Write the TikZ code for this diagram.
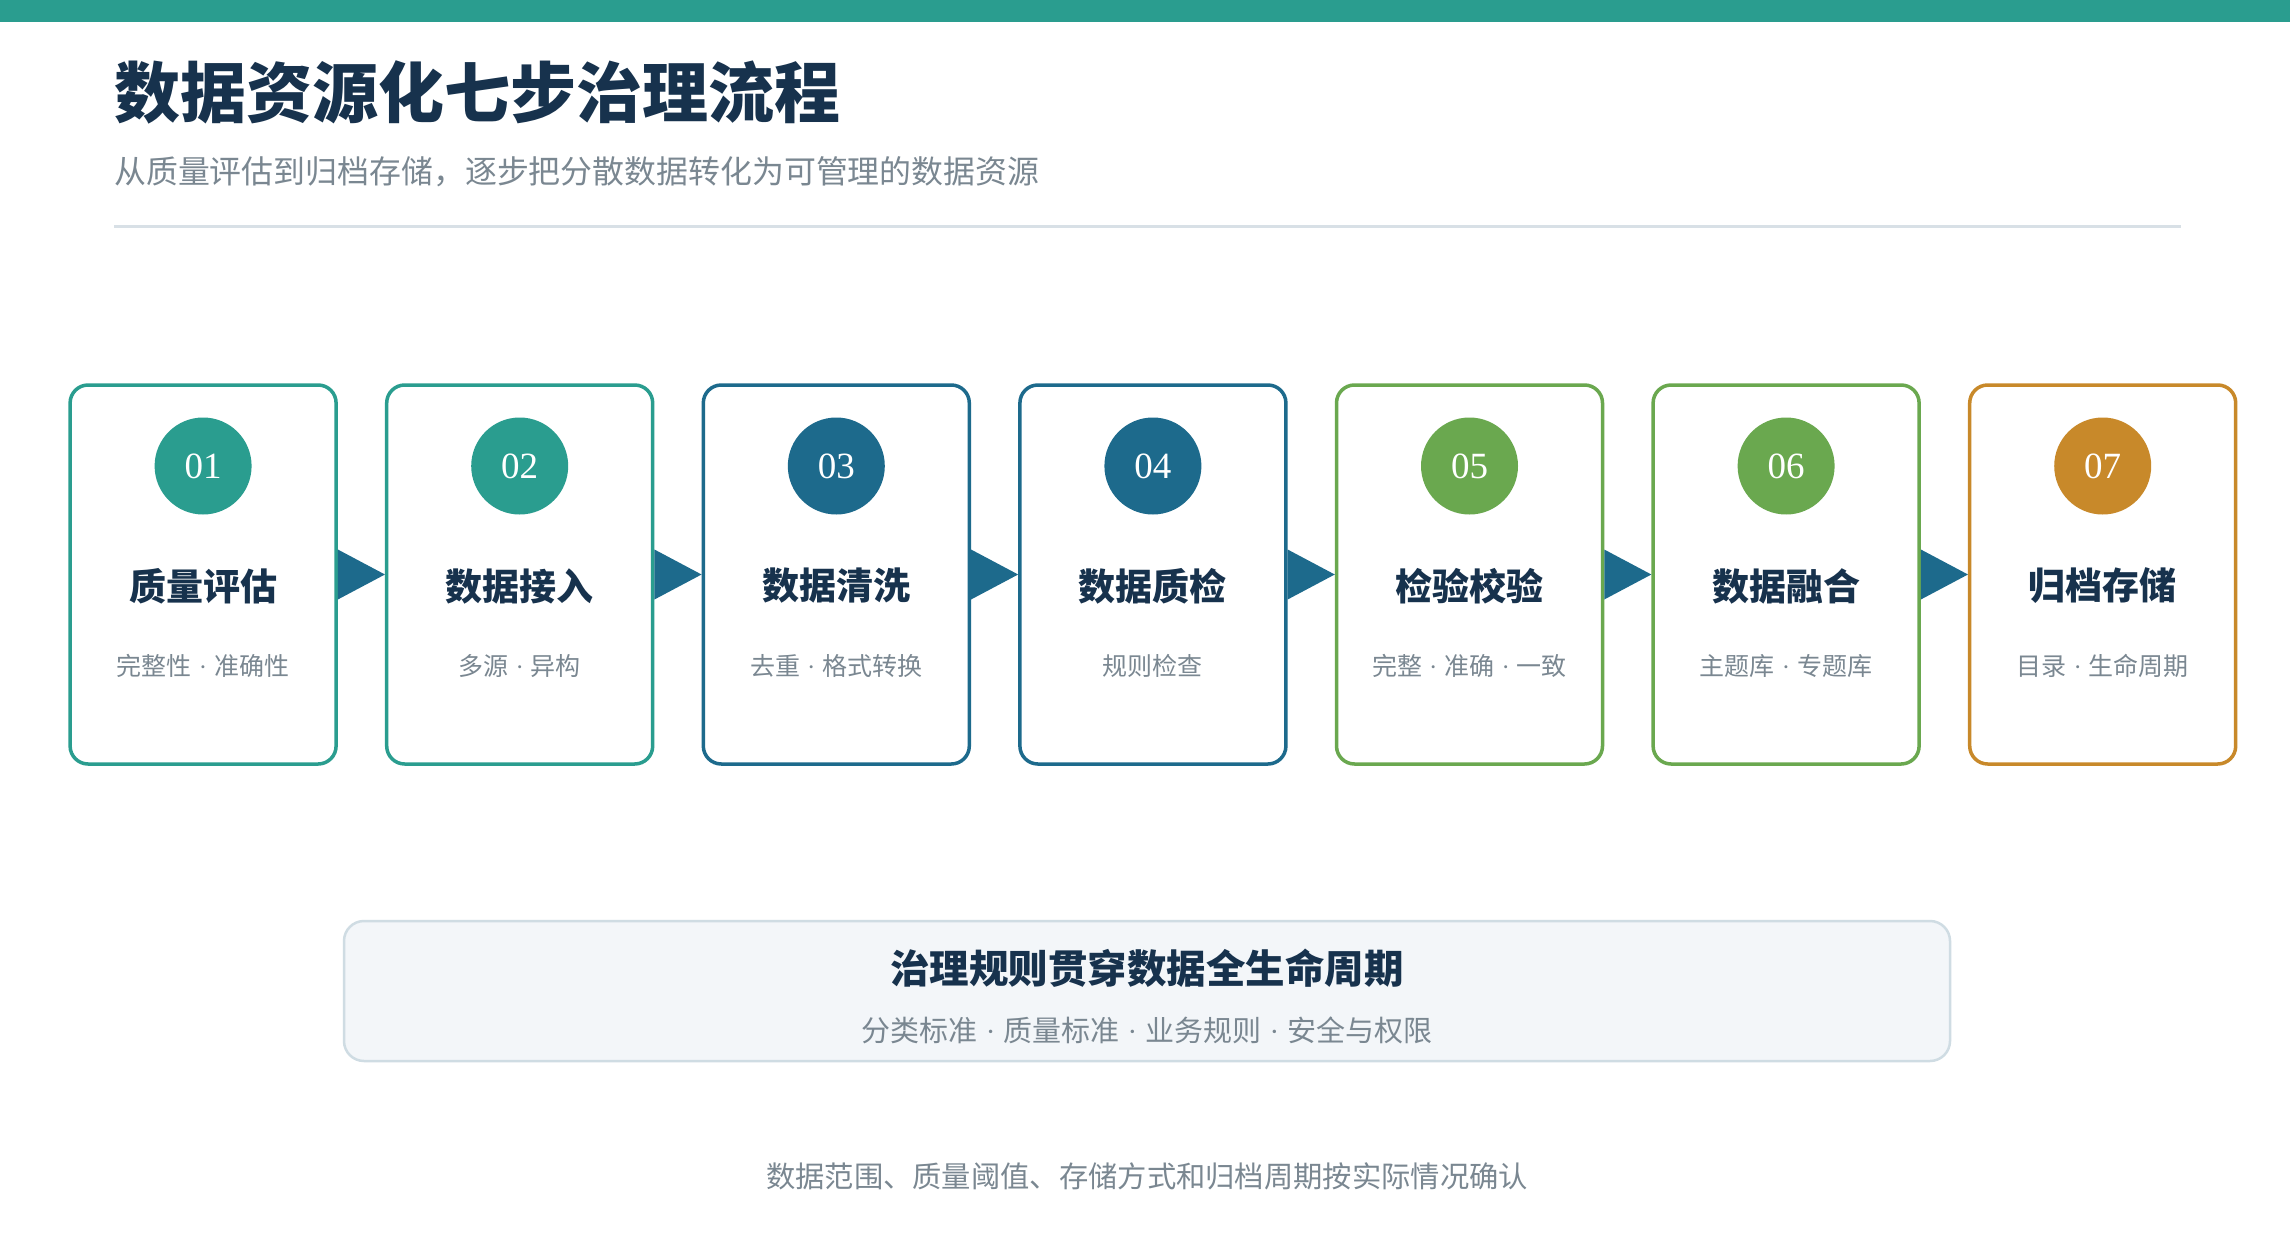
\documentclass[tikz,border=0pt]{standalone}
\usepackage{fontspec}
\setmainfont{Liberation Serif}
\newfontfamily\cjk{Noto Sans CJK SC}
\newfontfamily\numfont{Liberation Serif}
\newcommand{\middot}{\hspace{0.28em}{\numfont ·}\hspace{0.28em}}
\definecolor{cteal}{HTML}{2A9D8F}
\definecolor{cblue}{HTML}{1D6A8C}
\definecolor{cgreen}{HTML}{6AA84F}
\definecolor{corange}{HTML}{C8892A}
\definecolor{navy}{HTML}{17324D}
\definecolor{greytext}{HTML}{7A8791}
\definecolor{rulec}{HTML}{D8E0E6}
\definecolor{panelbg}{HTML}{F3F6F9}
\definecolor{panelbd}{HTML}{CFDCE3}
\begin{document}
\begin{tikzpicture}[x=1pt,y=-1pt,
  stepbox/.style={draw, line width=3.5pt, rounded corners=18pt, fill=white,
    minimum width=266pt, minimum height=379pt, inner sep=0pt},
  numdot/.style={circle, minimum size=97pt, inner sep=0pt, text=white,
    font=\numfont\fontsize{37}{40}\selectfont},
  steptitle/.style={inner sep=0pt, text=navy, font=\cjk\bfseries\fontsize{37}{40}\selectfont},
  stepsub/.style={inner sep=0pt, text=greytext, font=\cjk\fontsize{25}{28}\selectfont},
  flowarrow/.style={fill=cblue, draw=none}]
\useasboundingbox (0,0) rectangle (2290,1244);
\fill[white] (0,0) rectangle (2290,1244);
\fill[cteal] (0,0) rectangle (2290,22);
\node[anchor=west, inner sep=0pt, text=navy, font=\cjk\bfseries\fontsize{66}{70}\selectfont] (title) at (114,92) {数据资源化七步治理流程};
\node[anchor=west, inner sep=0pt, text=greytext, font=\cjk\fontsize{31.9}{35}\selectfont] (subtitle) at (114,172) {从质量评估到归档存储，逐步把分散数据转化为可管理的数据资源};
\coordinate (l1) at (114,226);
\coordinate (l2) at (2181,226);
\draw[rulec, line width=3pt] (l1) -- (l2);
\foreach \i/\num/\t/\s/\c in {1/01/质量评估/完整性\middot 准确性/cteal,
  2/02/数据接入/多源\middot 异构/cteal,
  3/03/数据清洗/去重\middot 格式转换/cblue,
  4/04/数据质检/规则检查/cblue,
  5/05/检验校验/完整\middot 准确\middot 一致/cgreen,
  6/06/数据融合/主题库\middot 专题库/cgreen,
  7/07/归档存储/目录\middot 生命周期/corange}{
  \pgfmathsetmacro{\cx}{203.1+(\i-1)*316.6}
  \node[stepbox, draw=\c] (b\i) at (\cx,574.5) {};
  \node[numdot, fill=\c] (n\i) at (\cx,466) {\num};
  \node[steptitle] (t\i) at (\cx,586) {\t};
  \node[stepsub] (s\i) at (\cx,666) {\s};
}
\foreach \i in {1,...,6}{
  \pgfmathtruncatemacro{\j}{\i+1}
  \fill[flowarrow] ([yshift=25pt]b\i.east) -- (b\j.west) -- ([yshift=-25pt]b\i.east) -- cycle;
}
\node[draw=panelbd, fill=panelbg, line width=2.5pt, rounded corners=20pt,
  minimum width=1606pt, minimum height=140pt, inner sep=0pt] (rules) at (1147,991) {};
\node[inner sep=0pt, text=navy, font=\cjk\bfseries\fontsize{39.5}{42}\selectfont] (rtitle) at (1147,968) {治理规则贯穿数据全生命周期};
\node[inner sep=0pt, text=greytext, font=\cjk\fontsize{29}{32}\selectfont] (rsub) at (1147,1030) {分类标准\middot 质量标准\middot 业务规则\middot 安全与权限};
\node[inner sep=0pt, text=greytext, font=\cjk\fontsize{29.3}{32}\selectfont] (foot) at (1147,1176) {数据范围、质量阈值、存储方式和归档周期按实际情况确认};
\end{tikzpicture}
\end{document}
